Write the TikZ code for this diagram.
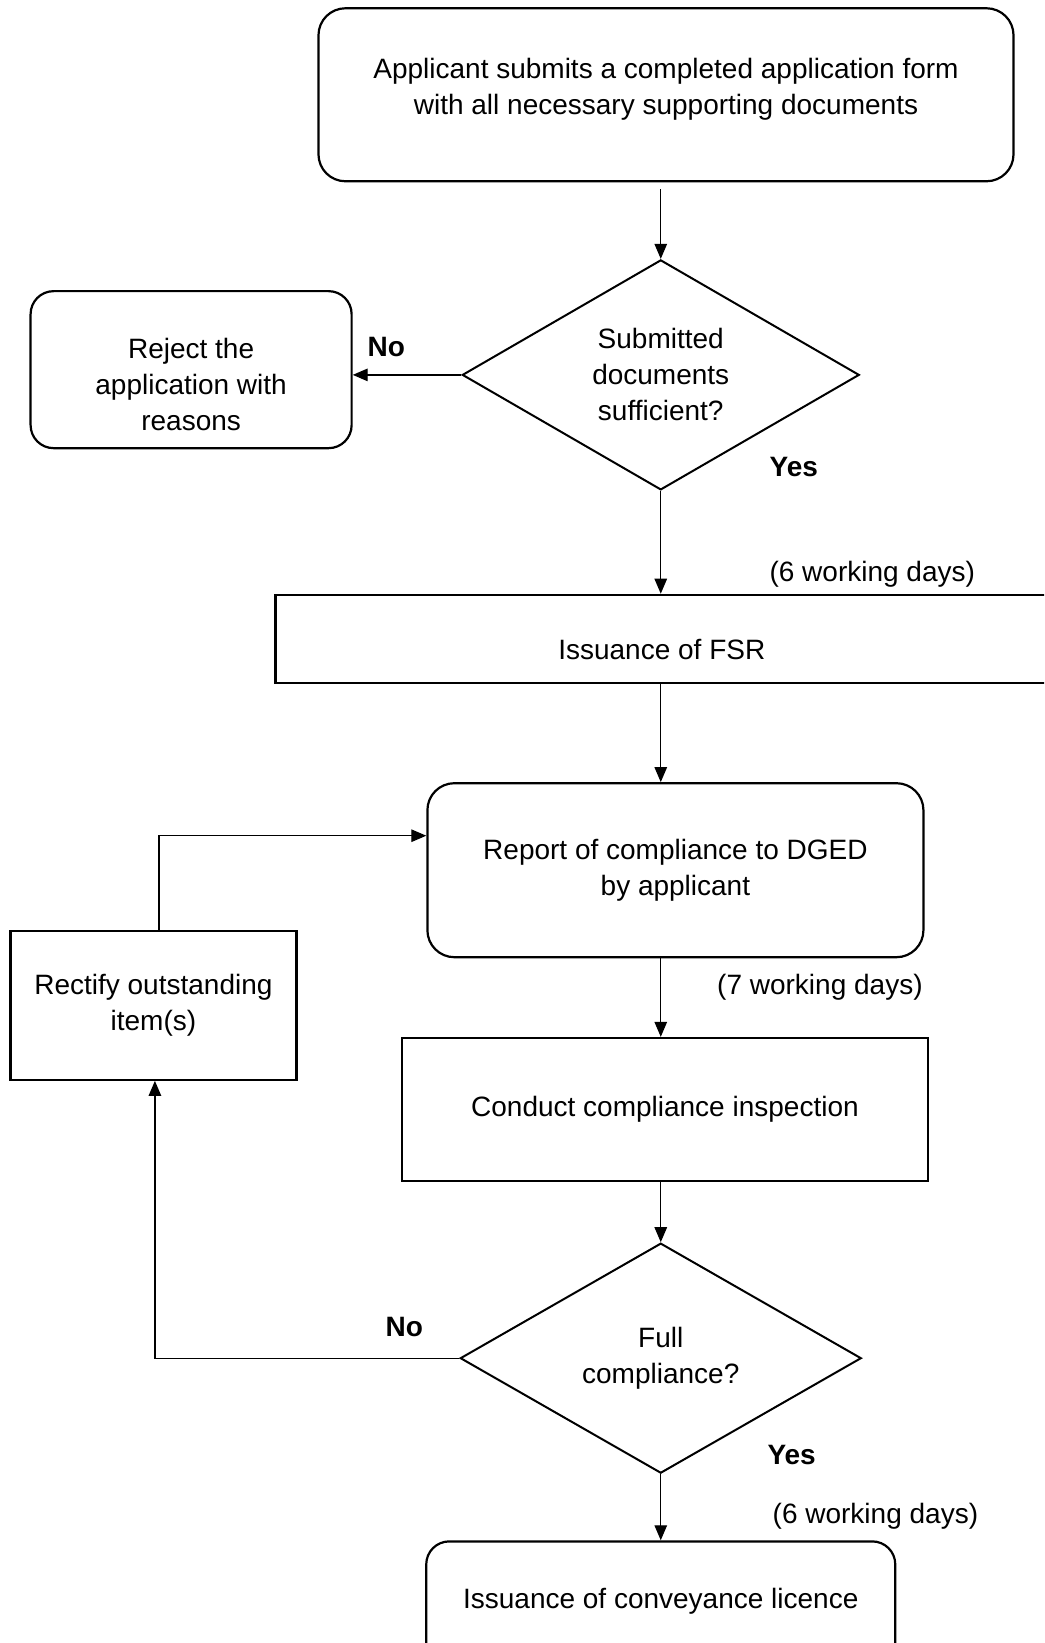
\documentclass[tikz,border=0pt]{standalone}
\usepackage{fontspec}
\setmainfont{Liberation Sans}
\usetikzlibrary{shapes.geometric,arrows.meta}
\tikzset{
  box/.style={draw, line width=2.2pt, align=center, inner sep=0pt},
  rbox/.style={box, rounded corners=27pt},
  sbox/.style={box},
  dia/.style={draw, diamond, line width=2pt, align=center, inner sep=0pt},
  arr/.style={line width=1.3pt, -{Triangle[length=15pt,width=12.5pt]}},
  lbl/.style={inner sep=0pt, font=\fontsize{28}{36}\selectfont\bfseries},
  txt/.style={inner sep=0pt, align=center}
}
\begin{document}
\begin{tikzpicture}[x=1.0471pt,y=-1.0471pt,every node/.style={font=\fontsize{28}{36}\selectfont}]
\useasboundingbox (0,0) rectangle (997,1569);
\clip (0,0) rectangle (997,1569);
\fill[white] (0,0) rectangle (997,1569);
% nodes
\node[rbox, minimum width=695pt, minimum height=173pt] (top) at (636,90.5) {};
\node[txt] (toptext) at (636,85) {Applicant submits a completed application form\\with all necessary supporting documents};
\node[dia, minimum width=397pt, minimum height=230pt, aspect=1.72] (d1) at (631,358) {Submitted\\documents\\sufficient?};
\node[rbox, rounded corners=23pt, minimum width=321pt, minimum height=157pt] (reject) at (182.5,353) {};
\node[txt] (rejtext) at (182.5,367) {Reject the\\application with\\reasons};
\node[sbox, minimum width=790pt, minimum height=88pt, anchor=west] (fsr) at (262,610) {};
\node[txt] (fsrtext) at (632,620) {Issuance of FSR};
\node[rbox, minimum width=496pt, minimum height=174pt] (report) at (645,831) {Report of compliance to DGED\\by applicant};
\node[sbox, minimum width=526pt, minimum height=143pt] (conduct) at (635,1059.5) {Conduct compliance inspection};
\node[dia, minimum width=401pt, minimum height=230pt, aspect=1.74] (d2) at (631,1297) {Full\\compliance?};
\node[sbox, minimum width=286pt, minimum height=149pt] (rectify) at (146.5,960) {Rectify outstanding\\item(s)};
\node[rbox, rounded corners=23pt, minimum width=469pt, minimum height=176pt] (licence) at (631,1556) {};
\node[txt] (lictext) at (631,1529) {Issuance of conveyance licence};
% labels
\node[lbl] (no1) at (369,331) {No};
\node[lbl] (yes1) at (758,446) {Yes};
\node[txt] (days1) at (833,548) {(6 working days)};
\node[txt] (days2) at (783,943) {(7 working days)};
\node[lbl] (no2) at (386,1267) {No};
\node[lbl] (yes2) at (756,1389) {Yes};
\node[txt] (days3) at (836,1448) {(6 working days)};
% connectors
\draw[arr] ([yshift=-7pt]d1.north |- top.south) -- (d1.north);
\draw[arr] (d1.west) -- (reject.east |- d1.west);
\draw[arr] (d1.south) -- (d1.south |- fsr.north);
\draw[arr] (d1.south |- fsr.south) -- (d1.south |- report.north);
\draw[arr] (d1.south |- report.south) -- (d1.south |- conduct.north);
\draw[arr] (d2.north |- conduct.south) -- (d2.north);
\draw[arr] (d2.west) -| ([xshift=1.5pt]rectify.south);
\draw[arr] ([xshift=5.5pt]rectify.north) |- ([yshift=34.5pt]report.west);
\draw[arr] (d2.south) -- (d2.south |- licence.north);
\end{tikzpicture}
\end{document}
